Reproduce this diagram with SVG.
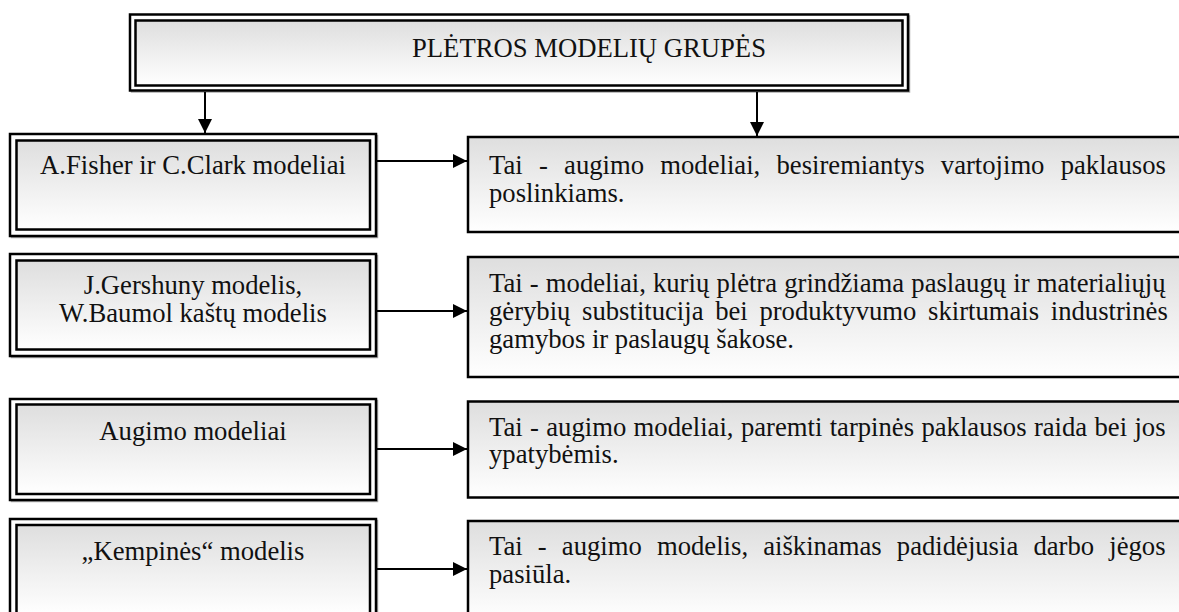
<svg xmlns="http://www.w3.org/2000/svg" width="1179" height="612" viewBox="0 0 1179 612">
<style>
text{font-family:"Liberation Serif","Times New Roman",Times,serif;font-size:26.67px;fill:#111}
.c{text-anchor:middle}
.g{fill:url(#grad)}
.o{fill:#fff;stroke:#000;stroke-width:2.5}
.s{fill:none;stroke:#aaa;stroke-width:1.5}
.con{stroke:#000;stroke-width:2;fill:none;marker-end:url(#ah)}
</style>
<defs>
<linearGradient id="grad" x1="0" y1="0" x2="0" y2="1">
<stop offset="0" stop-color="#dedede"/>
<stop offset="1" stop-color="#ffffff"/>
</linearGradient>
<marker id="ah" viewBox="0 0 10 10" refX="10" refY="5" markerWidth="15" markerHeight="14" markerUnits="userSpaceOnUse" orient="auto">
<path d="M0,0 L10,5 L0,10 z" fill="#000"/>
</marker>
</defs>
<rect width="1179" height="612" fill="#fff"/>
<g id="title">
<rect class="s" x="131.5" y="16" width="778" height="76"/>
<rect class="o" x="130" y="14.5" width="778" height="76"/>
<rect class="g" x="135.5" y="20.5" width="767" height="65" stroke="#000" stroke-width="2.5"/>
<text x="412" y="57">PLĖTROS MODELIŲ GRUPĖS</text>
</g>
<g id="left1">
<rect class="s" x="11.5" y="135.5" width="366" height="102"/>
<rect class="o" x="10" y="134" width="366" height="102"/>
<rect class="g" x="16.5" y="140.5" width="353.5" height="89" stroke="#000" stroke-width="2.5"/>
<text class="c" x="193" y="174">A.Fisher ir C.Clark modeliai</text>
</g>
<g id="left2">
<rect class="s" x="11.5" y="255.5" width="366" height="102"/>
<rect class="o" x="10" y="254" width="366" height="102"/>
<rect class="g" x="16.5" y="260.5" width="353.5" height="89" stroke="#000" stroke-width="2.5"/>
<text class="c" x="193" y="294">J.Gershuny modelis,</text>
<text class="c" x="193" y="322">W.Baumol kaštų modelis</text>
</g>
<g id="left3">
<rect class="s" x="11.5" y="400.5" width="366" height="101"/>
<rect class="o" x="10" y="399" width="366" height="101"/>
<rect class="g" x="16.5" y="404.5" width="353.5" height="89.5" stroke="#000" stroke-width="2.5"/>
<text class="c" x="193" y="440">Augimo modeliai</text>
</g>
<g id="left4">
<rect class="s" x="11.5" y="520.5" width="366" height="102"/>
<rect class="o" x="10" y="519" width="366" height="102"/>
<rect class="g" x="16.5" y="525" width="353.5" height="89" stroke="#000" stroke-width="2.5"/>
<text class="c" x="193" y="560">„Kempinės“ modelis</text>
</g>
<g id="right1">
<rect class="g" x="468" y="137" width="714" height="95" stroke="#000" stroke-width="2.5"/>
<text x="489" y="174" style="word-spacing:9.6px">Tai - augimo modeliai, besiremiantys vartojimo paklausos</text>
<text x="489" y="202">poslinkiams.</text>
</g>
<g id="right2">
<rect class="g" x="468" y="257" width="714" height="120" stroke="#000" stroke-width="2.5"/>
<text x="489" y="292" style="word-spacing:0.5px">Tai - modeliai, kurių plėtra grindžiama paslaugų ir materialiųjų</text>
<text x="489" y="320" style="word-spacing:5px">gėrybių substitucija bei produktyvumo skirtumais industrinės</text>
<text x="489" y="348">gamybos ir paslaugų šakose.</text>
</g>
<g id="right3">
<rect class="g" x="468" y="401.5" width="714" height="96" stroke="#000" stroke-width="2.5"/>
<text x="489" y="436" style="word-spacing:0.7px">Tai - augimo modeliai, paremti tarpinės paklausos raida bei jos</text>
<text x="489" y="463">ypatybėmis.</text>
</g>
<g id="right4">
<rect class="g" x="468" y="521" width="714" height="100" stroke="#000" stroke-width="2.5"/>
<text x="489" y="555" style="word-spacing:8.5px">Tai - augimo modelis, aiškinamas padidėjusia darbo jėgos</text>
<text x="489" y="583">pasiūla.</text>
</g>
<g id="connectors">
<line class="con" x1="205" y1="92" x2="205" y2="133"/>
<line class="con" x1="757" y1="92" x2="757" y2="136"/>
<line class="con" x1="377" y1="161" x2="467" y2="161"/>
<line class="con" x1="377" y1="311" x2="467" y2="311"/>
<line class="con" x1="377" y1="449" x2="467" y2="449"/>
<line class="con" x1="377" y1="569" x2="467" y2="569"/>
</g>
</svg>
